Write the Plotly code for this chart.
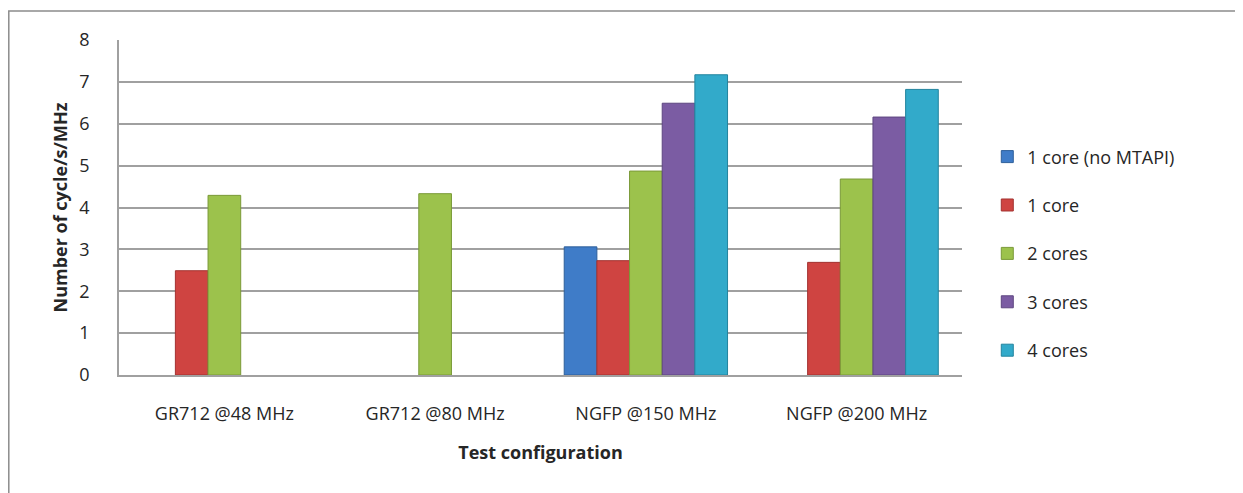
import plotly.graph_objects as go

categories = ["GR712 @48 MHz", "GR712 @80 MHz", "NGFP @150 MHz", "NGFP @200 MHz"]
series_names = ["1 core (no MTAPI)", "1 core", "2 cores", "3 cores", "4 cores"]
s_1core_nomtapi = [None, None, 3.06, None]
s_1core = [2.49, None, 2.73, 2.69]
s_2cores = [4.29, 4.33, 4.87, 4.68]
s_3cores = [None, None, 6.49, 6.16]
s_4cores = [None, None, 7.17, 6.82]
y_ticks = [0, 1, 2, 3, 4, 5, 6, 7, 8]

series_values = [s_1core_nomtapi, s_1core, s_2cores, s_3cores, s_4cores]
colors = ["#3F7CC8", "#CF4441", "#9CC24C", "#7B5CA3", "#32AACA"]
edges = ["#2E5F9A", "#A33230", "#7A9A38", "#5E4680", "#23849E"]

fig = go.Figure()
for i, (name, vals) in enumerate(zip(series_names, series_values)):
    fig.add_trace(go.Bar(
        x=categories, y=vals, name=name,
        marker=dict(color=colors[i], line=dict(color=edges[i], width=1)),
        legendgroup=name,
    ))

font_family = "Open Sans, Noto Sans, sans-serif"
txt = "#262626"
fig.update_layout(
    width=1235, height=485,
    margin=dict(l=111, r=281, t=32, b=118),
    paper_bgcolor="white", plot_bgcolor="white",
    barmode="group", bargap=0.225, bargroupgap=0,
    font=dict(family=font_family, size=18, color=txt),
    showlegend=True,
    legend=dict(x=1.030, y=0.363, xanchor="left", yanchor="middle",
                font=dict(size=18, color=txt),
                tracegroupgap=22, traceorder="grouped",
                itemwidth=30),
    xaxis=dict(showline=True, linecolor="#A0A0A0", linewidth=1.5,
               tickfont=dict(size=18, color=txt),
               ticks="", ticklabelstandoff=22,
               title=dict(text="<b>Test configuration</b>", font=dict(size=18, color=txt), standoff=22)),
    yaxis=dict(range=[0, 8], tickvals=y_ticks, showgrid=True, gridcolor="#A0A0A0", gridwidth=1.5,
               showline=True, linecolor="#A0A0A0", linewidth=1.5, zeroline=False,
               tickfont=dict(size=18, color=txt), ticks="", ticklabelstandoff=24,
               title=dict(text="<b>Number of cycle/s/MHz</b>", font=dict(size=18, color=txt), standoff=7)),
)
fig.add_shape(type="rect", xref="paper", yref="paper",
              x0=-110.2/843, x1=1.5, y0=-0.6, y1=1 + 29/335,
              line=dict(color="#8C8C8C", width=1.5), fillcolor="rgba(0,0,0,0)", layer="below")

fig.write_html("out.html")
